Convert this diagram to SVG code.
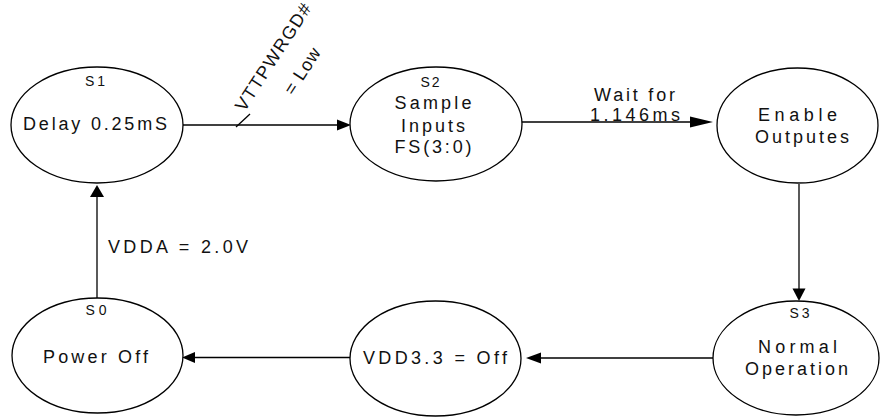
<svg xmlns="http://www.w3.org/2000/svg" width="880" height="417" viewBox="0 0 880 417">
<style>
.n{fill:#fff;stroke:#000;stroke-width:1.3}
.c{fill:none;stroke:#000;stroke-width:1.3}
.a{fill:#000;stroke:none}
text{font-family:"Liberation Sans",Arial,sans-serif;fill:#111;text-anchor:middle}
.t{font-size:18px}
.s{font-size:14px}
</style>
<rect width="880" height="417" fill="#fff"/>
<g id="connectors">
<line class="c" x1="183" y1="125" x2="338" y2="125"/>
<polygon class="a" points="351,125 337,119.5 337,130.5"/>
<line class="c" x1="236" y1="127" x2="250" y2="114"/>
<line class="c" x1="522" y1="122" x2="692" y2="122"/>
<polygon class="a" points="713,122 690,116.5 690,127.5"/>
<line class="c" x1="799" y1="184" x2="799" y2="290"/>
<polygon class="a" points="799,301 792.5,288.5 805.5,288.5"/>
<line class="c" x1="713" y1="358" x2="540" y2="358"/>
<polygon class="a" points="526,358 541,352.5 541,363.5"/>
<line class="c" x1="350" y1="357.5" x2="194" y2="357.5"/>
<polygon class="a" points="182,357.5 195,352 195,363"/>
<line class="c" x1="97" y1="298" x2="97" y2="196"/>
<polygon class="a" points="97,185 90,197 104,197"/>
<text class="t" transform="translate(273,57) rotate(-57)" dy="0.35em" textLength="124" lengthAdjust="spacing">VTTPWRGD#</text>
<text class="t" transform="translate(302,71) rotate(-57)" dy="0.35em" textLength="52" lengthAdjust="spacing">= Low</text>
<text class="t" x="634.5" y="101" textLength="81" lengthAdjust="spacing">Wait for</text>
<text class="t" x="635" y="121" textLength="90" lengthAdjust="spacing">1.146ms</text>
<text class="t" x="178" y="253" textLength="140" lengthAdjust="spacing">VDDA = 2.0V</text>
</g>
<g id="S1">
<ellipse class="n" cx="97" cy="125" rx="86" ry="58"/>
<text class="s" x="95" y="86" textLength="20" lengthAdjust="spacing">S1</text>
<text class="t" x="95" y="130" textLength="144" lengthAdjust="spacing">Delay 0.25mS</text>
</g>
<g id="S2">
<ellipse class="n" cx="436" cy="124" rx="86" ry="57"/>
<text class="s" x="430" y="87" textLength="19" lengthAdjust="spacing">S2</text>
<text class="t" x="433" y="109" textLength="77" lengthAdjust="spacing">Sample</text>
<text class="t" x="433" y="131.5" textLength="64" lengthAdjust="spacing">Inputs</text>
<text class="t" x="433" y="153" textLength="77" lengthAdjust="spacing">FS(3:0)</text>
</g>
<g id="Enable">
<ellipse class="n" cx="797.5" cy="125.5" rx="80.5" ry="57.5"/>
<text class="t" x="797.5" y="120.5" textLength="79" lengthAdjust="spacing">Enable</text>
<text class="t" x="802" y="143" textLength="94" lengthAdjust="spacing">Outputes</text>
</g>
<g id="S3">
<ellipse class="n" cx="796" cy="358" rx="83" ry="57"/>
<text class="s" x="799.5" y="317.5" textLength="20" lengthAdjust="spacing">S3</text>
<text class="t" x="797.5" y="352.5" textLength="79" lengthAdjust="spacing">Normal</text>
<text class="t" x="796.5" y="375" textLength="103" lengthAdjust="spacing">Operation</text>
</g>
<g id="VDD33">
<ellipse class="n" cx="435.5" cy="358.5" rx="85.5" ry="57.5"/>
<text class="t" x="435" y="364" textLength="144" lengthAdjust="spacing">VDD3.3 = Off</text>
</g>
<g id="S0">
<ellipse class="n" cx="97.5" cy="355.5" rx="85.5" ry="57.5"/>
<text class="s" x="96" y="315" textLength="21" lengthAdjust="spacing">S0</text>
<text class="t" x="95.5" y="362.5" textLength="105" lengthAdjust="spacing">Power Off</text>
</g>
</svg>
